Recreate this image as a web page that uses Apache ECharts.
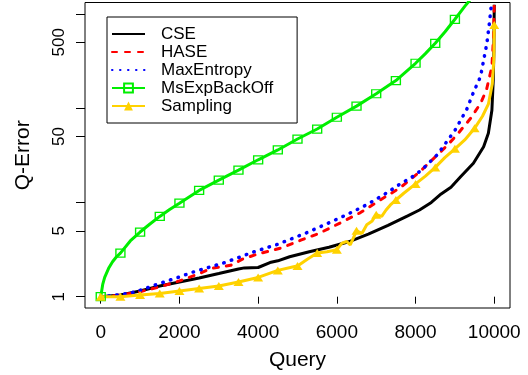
<!DOCTYPE html>
<html><head><meta charset="utf-8">
<script src="https://cdn.jsdelivr.net/npm/echarts@6/dist/echarts.min.js"></script>
<style>html,body{margin:0;padding:0;background:#fff}#c{width:528px;height:375px}</style>
</head><body><div id="c"></div>
<script>
// ---- data ----
const seriesNames = ['CSE', 'HASE', 'MaxEntropy', 'MsExpBackOff', 'Sampling'];

const cseQ = [0,500,1000,1500,2000,2500,3000,3500,3650,4000,4300,4500,4800,5300,5800,6300,6800,7300,7800,8100,8400,8650,8900,9150,9470,9730,9850,9940,9975,9990,10000];
const cseV = [1,1.04,1.15,1.3,1.43,1.58,1.76,1.97,2.02,2.04,2.3,2.4,2.65,3.0,3.35,3.82,4.6,5.7,7.2,8.3,10,12.3,14.5,18.8,26,39,54,95,200,400,1250];

const haseQ = [0,500,1000,1500,2000,2500,2800,3100,3300,3600,4000,4300,4600,5100,5550,6100,6600,7100,7600,8100,8450,8800,9050,9400,9650,9800,9940,9985,10000];
const haseV = [1,1.04,1.13,1.27,1.47,1.75,2.0,2.08,2.15,2.5,2.85,3.05,3.3,4.0,4.7,6.1,7.8,10.6,14.2,21,29,40,52,78,112,155,275,600,1300];

const maxEntQ = [0,500,900,1450,2000,2300,3150,3500,3900,4500,5250,5750,6250,6750,7200,7600,8000,8200,8550,8700,9000,9300,9480,9650,9810,9880,9930];
const maxEntV = [1,1.05,1.13,1.36,1.62,1.8,2.3,2.6,3.0,3.6,4.8,5.95,7.4,9.4,12.1,15.6,19.6,23,32,39,58,97,150,215,480,820,1300];

const msQ = [0,50,100,200,300,400,500,750,1000,1250,1500,1750,2000,2500,3000,3500,4000,4500,5000,5500,6000,6500,7000,7500,8000,8250,8500,8750,9000,9250,9500];
const msV = [1,1.35,1.6,2.0,2.35,2.65,2.9,3.9,4.85,5.9,7.1,8.4,9.8,13.4,17.2,22,28.3,36,47,60,80,105,142,196,299,378,487,645,875,1200,1600];

const sampQ = [0,500,1000,1500,2000,2500,3000,3500,4000,4500,4900,5000,5250,5500,5750,6000,6130,6250,6340,6500,6640,6760,6890,7000,7140,7250,7360,7500,7700,8000,8250,8500,8750,9000,9250,9500,9700,9850,9950,9990,10000];
const sampV = [1,1.0,1.04,1.08,1.15,1.22,1.3,1.43,1.6,1.9,2.08,2.12,2.5,2.9,3.0,3.15,3.7,3.85,3.55,5.0,4.7,5.8,6.3,7.4,7.1,8.3,9.4,10.6,12.5,15.7,19,23.5,30,37,46,61,82,110,180,330,760];

const xTicks = [0, 2000, 4000, 6000, 8000, 10000];
const yTicks = [1, 5, 10, 50, 100, 500, 1000];
const yLabelValues = [1, 5, 50, 500];
const markerStep = 500;

// ---- build ----
const FONT = 'Liberation Sans, Arial, Helvetica, sans-serif';
const NOFILL = 'rgba(0,0,0,0)';
function plain(q, v) { return q.map((x, i) => [x, v[i]]); }
function marked(q, v) {
  return q.map((x, i) => x % markerStep === 0 ? { value: [x, v[i]] } : { value: [x, v[i]], symbol: 'none' });
}

const chart = echarts.init(document.getElementById('c'), null, { renderer: 'canvas' });
chart.setOption({
  animation: false,
  backgroundColor: '#fff',
  grid: { left: 85, right: 18, top: 2.5, bottom: 67, show: true, borderColor: '#000', borderWidth: 1, containLabel: false, outerBoundsMode: 'none' },
  legend: {
    orient: 'vertical', left: 107, top: 17,
    padding: [8, 24, 8, 4], itemWidth: 33, itemHeight: 11, itemGap: 0,
    borderColor: '#000', borderWidth: 1, backgroundColor: '#fff',
    textStyle: { fontFamily: FONT, fontSize: 17, lineHeight: 18, color: '#000', padding: [0, 0, 0, 11] },
    data: seriesNames
  },
  xAxis: {
    type: 'value', min: -400, max: 10400,
    name: 'Query', nameLocation: 'middle', nameGap: 42, nameMoveOverlap: false,
    nameTextStyle: { fontFamily: FONT, fontSize: 21, color: '#000' },
    axisLine: { show: false },
    axisTick: { show: true, length: 7, customValues: xTicks, lineStyle: { color: '#000', width: 1 } },
    axisLabel: { customValues: xTicks, fontFamily: FONT, fontSize: 19, color: '#000', margin: 15,
      formatter: v => String(v) },
    splitLine: { show: false }
  },
  yAxis: [
    {
      type: 'log', logBase: 10, min: Math.pow(10, -0.12), max: Math.pow(10, 3.12),
      axisLine: { show: false }, axisTick: { show: false }, axisLabel: { show: false }, splitLine: { show: false }
    },
    {
      type: 'value', position: 'left', min: -0.12, max: 3.12,
      name: 'Q-Error', nameLocation: 'middle', nameGap: 51, nameMoveOverlap: false,
      nameTextStyle: { fontFamily: FONT, fontSize: 21, color: '#000' },
      axisLine: { show: false },
      axisTick: { show: true, length: 9, customValues: yTicks.map(Math.log10), lineStyle: { color: '#000', width: 1 } },
      axisLabel: { customValues: yLabelValues.map(Math.log10), rotate: 90, fontFamily: FONT, fontSize: 17, color: '#000', margin: 17,
        formatter: v => String(Math.round(Math.pow(10, v))) },
      splitLine: { show: false }
    }
  ],
  series: [
    { name: 'CSE', type: 'line', yAxisIndex: 0, symbol: 'none', data: plain(cseQ, cseV),
      lineStyle: { color: '#000', width: 3 }, itemStyle: { color: NOFILL } },
    { name: 'HASE', type: 'line', yAxisIndex: 0, symbol: 'none', data: plain(haseQ, haseV),
      lineStyle: { color: '#ff0000', width: 3, type: [5, 8], cap: 'round' }, itemStyle: { color: NOFILL } },
    { name: 'MaxEntropy', type: 'line', yAxisIndex: 0, symbol: 'none', data: plain(maxEntQ, maxEntV),
      lineStyle: { color: '#0000ff', width: 3.5, type: [0.5, 7.5], cap: 'round' }, itemStyle: { color: NOFILL } },
    { name: 'MsExpBackOff', type: 'line', yAxisIndex: 0, symbol: 'rect', symbolSize: [9, 8], showSymbol: true, data: marked(msQ, msV),
      lineStyle: { color: '#00ee00', width: 3 }, itemStyle: { color: NOFILL, borderColor: '#00ee00', borderWidth: 1.3 } },
    { name: 'Sampling', type: 'line', yAxisIndex: 0, symbol: 'triangle', symbolSize: [10, 8], showSymbol: true, data: marked(sampQ, sampV),
      lineStyle: { color: '#ffd200', width: 3 }, itemStyle: { color: '#ffd200' } }
  ]
});
</script></body></html>
